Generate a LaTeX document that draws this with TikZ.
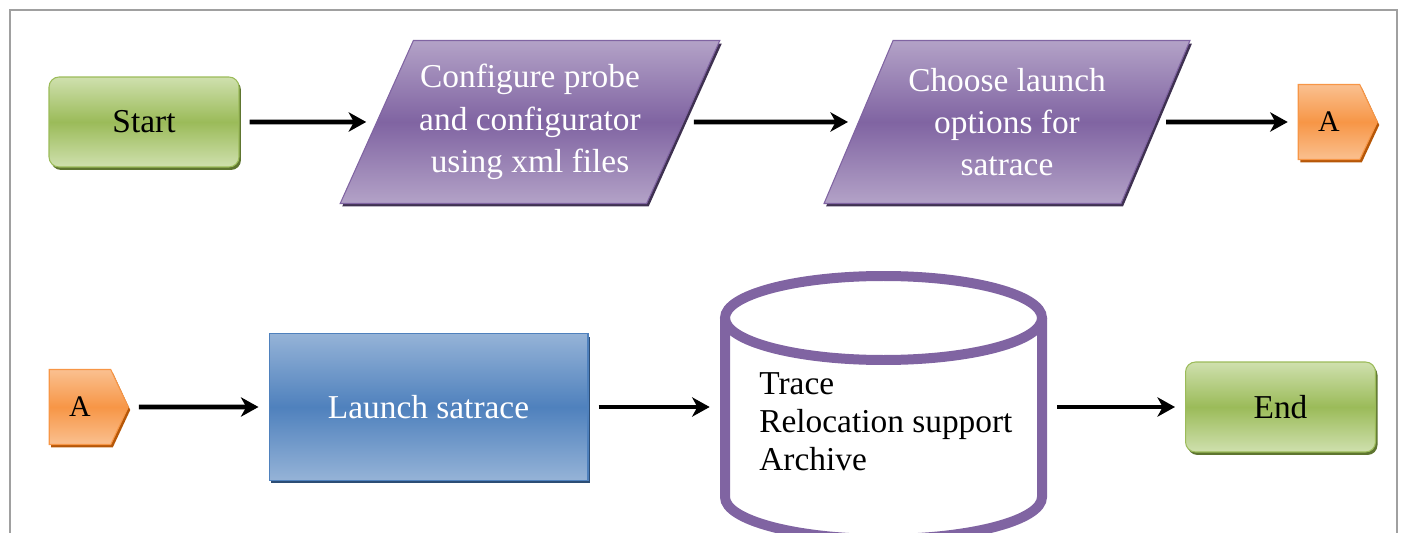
\documentclass[tikz,border=0pt]{standalone}
\usepackage{fontspec}
\setmainfont{Liberation Serif}
\usetikzlibrary{shapes.geometric,shapes.symbols,shadows,arrows.meta}

\definecolor{grnmid}{HTML}{9BBB59}
\definecolor{grnlt}{HTML}{CFE0AE}
\definecolor{grnsh}{HTML}{5E7530}
\definecolor{purmid}{HTML}{8064A2}
\definecolor{purlt}{HTML}{B3A2C7}
\definecolor{pursh}{HTML}{3F3151}
\definecolor{blumid}{HTML}{4F81BD}
\definecolor{blult}{HTML}{95B3D7}
\definecolor{blush}{HTML}{2C4D75}
\definecolor{ormid}{HTML}{F79646}
\definecolor{orlt}{HTML}{FAC090}
\definecolor{orsh}{HTML}{B65708}
\definecolor{framec}{HTML}{A0A0A0}

\begin{document}
\begin{tikzpicture}[x=0.02cm,y=0.02cm,
  txt/.style={font=\fontsize{19}{21.5}\selectfont},
  sh/.style={drop shadow={shadow xshift=0.04cm,shadow yshift=-0.06cm,fill=#1,opacity=1}},
  terminal/.style={txt,draw=grnmid,line width=0.6pt,rounded corners=0.2cm,
    minimum width=3.8cm,minimum height=1.8cm,
    top color=grnlt,bottom color=grnlt,middle color=grnmid,sh=grnsh},
  io/.style={font=\fontsize{19}{24}\selectfont,trapezium,trapezium left angle=60,trapezium right angle=120,
    trapezium stretches body,draw=purmid,line width=0.6pt,text=white,align=center,
    minimum width=7.32cm,minimum height=3.26cm,
    top color=purlt,bottom color=purlt,middle color=purmid,sh=pursh},
  proc/.style={txt,draw=blumid,line width=0.6pt,text=white,
    minimum width=6.38cm,minimum height=2.94cm,
    top color=blult,bottom color=blult,middle color=blumid,sh=blush},
  conn/.style={font=\fontsize{17}{19}\selectfont,signal,signal to=east,signal pointer angle=130,
    draw=ormid,line width=0.6pt,minimum width=1.58cm,minimum height=1.5cm,inner sep=0pt,
    top color=orlt,bottom color=orlt,middle color=ormid,sh=orsh},
  arr/.style={line width=2.6pt,-{Stealth[length=10pt,width=11pt,inset=3pt]},
    shorten <=0.2cm,shorten >=0.2cm}]
\useasboundingbox (0,0) rectangle (1405,-533);
\draw [framec,line width=1.2pt] (10,-560) -- (10,-10) -- (1397,-10) -- (1397,-560);
% top row
\node [terminal] (start) at (144,-122) {Start};
\node [io] (cfg) at (530,-122) {Configure probe\\and configurator\\using xml files};
\node [io] (opt) at (1007,-122) {Choose launch\\options for\\satrace};
\node [conn] (aout) at (1329,-122) {A};
\draw [arr] (start) -- (cfg);
\draw [arr] (cfg) -- (opt);
\draw [arr] (opt) -- (aout);
% bottom row
\node [conn] (ain) at (80,-407) {A};
\node [proc] (launch) at (428.5,-407) {Launch satrace};
\draw [purmid,line width=0.2cm] (725,-318) -- (725,-497) arc (180:360:158.5 and 42) -- (1042,-318);
\draw [purmid,line width=0.2cm] (883.5,-318) ellipse (158.5 and 42);
\node [minimum width=6.54cm,minimum height=5.4cm,inner sep=0pt] (trace) at (883.5,-407) {};
\node [txt,align=left,anchor=west,inner sep=0pt] (tracetxt) at (759,-422) {Trace\\Relocation support\\Archive};
\node [terminal] (end) at (1280.5,-407) {End};
\draw [arr] (ain) -- (launch);
\draw [arr] (launch) -- (trace);
\draw [arr] (trace) -- (end);
\end{tikzpicture}
\end{document}
